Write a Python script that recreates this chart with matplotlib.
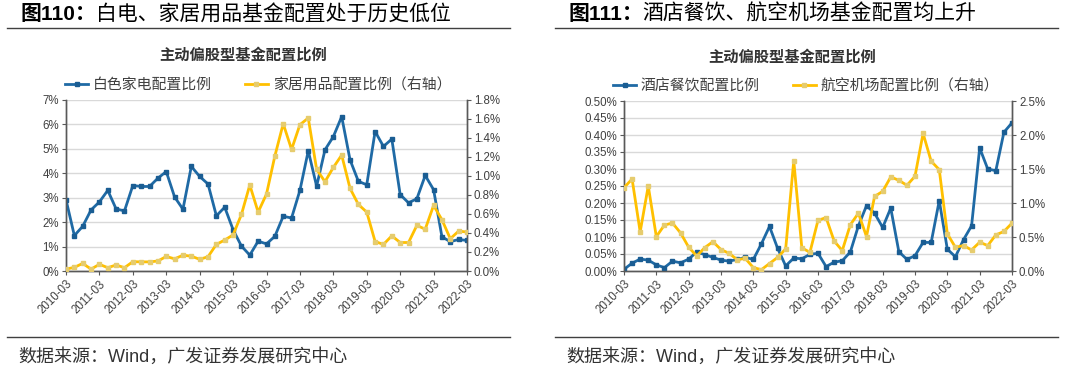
import numpy as np
import matplotlib
matplotlib.use('Agg')
import matplotlib.pyplot as plt
from matplotlib.lines import Line2D
from matplotlib.ticker import FuncFormatter, MultipleLocator

# quarterly data, 2010-03 .. 2022-03
quarter_labels = ['2010-03', '2011-03', '2012-03', '2013-03', '2014-03', '2015-03', '2016-03',
                  '2017-03', '2018-03', '2019-03', '2020-03', '2021-03', '2022-03']

# left panel (%)
white_goods = [2.92, 1.45, 1.83, 2.50, 2.83, 3.30, 2.54, 2.46, 3.50, 3.46, 3.46, 3.80, 4.07,
               3.03, 2.53, 4.28, 3.87, 3.56, 2.26, 2.61, 1.69, 1.02, 0.65, 1.22, 1.11, 1.42,
               2.24, 2.17, 3.30, 4.92, 3.47, 4.96, 5.50, 6.32, 4.55, 3.67, 3.53, 5.71, 5.10,
               5.40, 3.13, 2.79, 2.96, 3.91, 3.33, 1.40, 1.20, 1.29, 1.25]
home_goods = [0.02, 0.038, 0.08, 0.02, 0.07, 0.035, 0.063, 0.035, 0.098, 0.096, 0.096, 0.105,
              0.153, 0.128, 0.166, 0.156, 0.123, 0.150, 0.28, 0.326, 0.38, 0.595, 0.905, 0.62,
              0.81, 1.21, 1.55, 1.28, 1.54, 1.61, 1.07, 0.94, 1.09, 1.22, 0.87, 0.70, 0.62,
              0.31, 0.28, 0.37, 0.30, 0.30, 0.48, 0.44, 0.69, 0.54, 0.34, 0.42, 0.41]

# right panel (%)
hotel_catering = [0.005, 0.023, 0.035, 0.032, 0.018, 0.010, 0.029, 0.024, 0.035, 0.056, 0.048,
                  0.040, 0.032, 0.029, 0.034, 0.040, 0.034, 0.080, 0.131, 0.067, 0.015, 0.038,
                  0.036, 0.049, 0.052, 0.013, 0.026, 0.030, 0.056, 0.133, 0.192, 0.170, 0.128,
                  0.185, 0.057, 0.034, 0.045, 0.084, 0.084, 0.207, 0.064, 0.042, 0.092, 0.133,
                  0.362, 0.300, 0.295, 0.408, 0.436]
airline_airport = [1.225, 1.353, 0.575, 1.25, 0.505, 0.676, 0.705, 0.56, 0.35, 0.22, 0.345, 0.431,
                   0.315, 0.26, 0.167, 0.185, 0.05, 0.02, 0.11, 0.20, 0.325, 1.62, 0.34, 0.275,
                   0.745, 0.785, 0.44, 0.30, 0.68, 0.85, 0.507, 1.097, 1.171, 1.383, 1.334, 1.26,
                   1.393, 2.023, 1.614, 1.491, 0.546, 0.349, 0.374, 0.31, 0.423, 0.374, 0.531,
                   0.581, 0.704]

BLUE = '#1f6aa5'
BLUE_MK = '#1a5d93'
GOLD = '#ffc000'
GOLD_MK = '#e6cc6e'
TXT = '#404040'
CJK = ['Liberation Sans', 'Noto Sans CJK SC']

W, H = 1080, 369


def set_plot_style():
    plt.rcParams.update({
        'font.family': CJK,
        'font.size': 8,
        'axes.linewidth': 1.0,
        'xtick.color': '#595959',
        'ytick.color': '#595959',
        'xtick.labelcolor': TXT,
        'ytick.labelcolor': TXT,
        'xtick.major.size': 3,
        'ytick.major.size': 3,
    })


set_plot_style()


def px(x, y):
    """pixel coords (top-left origin) -> figure fraction"""
    return x / W, 1 - y / H


def pct_fmt(decimals):
    return FuncFormatter(lambda v, _: f'{v:.{decimals}f}%')


def draw_panel(fig, box, left_vals, right_vals, names, left_lim, right_lim,
               fig_no, fig_title, title_px, sub_px, legend_px, line_px):
    x0, y0 = px(box[0], box[3])
    x1, y1 = px(box[2], box[1])
    ax = fig.add_axes([x0, y0, x1 - x0, y1 - y0])
    ax2 = ax.twinx()
    xs = np.arange(len(left_vals))

    l1, = ax.plot(xs, left_vals, color=BLUE, lw=2.0, marker='s', ms=2.6,
                  mfc=BLUE_MK, mec=BLUE_MK, zorder=3)
    l2, = ax2.plot(xs, right_vals, color=GOLD, lw=2.0, marker='s', ms=2.6,
                   mfc=GOLD_MK, mec=GOLD_MK, zorder=3)

    ax.set_xlim(0, len(left_vals) - 1)
    ax.set_xticks(np.arange(0, len(left_vals), 4))
    ax.set_xticklabels(quarter_labels, rotation=45, ha='right', rotation_mode='anchor')
    ax.tick_params(axis='x', pad=2, labelsize=8.3)

    ax.set_ylim(0, left_lim[0])
    ax.yaxis.set_major_locator(MultipleLocator(left_lim[1]))
    ax.yaxis.set_major_formatter(pct_fmt(left_lim[2]))
    ax2.set_ylim(0, right_lim[0])
    ax2.yaxis.set_major_locator(MultipleLocator(right_lim[1]))
    ax2.yaxis.set_major_formatter(pct_fmt(right_lim[2]))
    ax.tick_params(axis='y', labelsize=8.3, pad=2)
    ax2.tick_params(axis='y', labelsize=8.3, pad=2)

    ax.grid(axis='y', color='#d9d9d9', lw=1.0)
    ax.set_axisbelow(True)
    for a in (ax, ax2):
        a.spines['top'].set_visible(False)
        for s in ('left', 'right', 'bottom'):
            a.spines[s].set_color('#595959')

    # headers
    tx, ty = px(*title_px)
    t1 = fig.text(tx, ty, fig_no, fontsize=15, fontweight='bold', color='black',
                  family=CJK, va='center', ha='left')
    ax.annotate(fig_title, xy=(1, 0.5), xycoords=t1, va='center', ha='left',
                fontsize=15, fontweight='medium', color='black', family=CJK,
                annotation_clip=False)
    lx0, ly = px(line_px[0], 28)
    lx1, _ = px(line_px[1], 28)
    fig.add_artist(Line2D([lx0, lx1], [ly, ly], color='#404040', lw=1.0))
    fx0, fy = px(line_px[0], 337)
    fig.add_artist(Line2D([fx0, lx1], [fy, fy], color='#404040', lw=1.0))
    sx, sy = px(line_px[0] + 11, 357)
    fig.text(sx, sy, '数据来源：Wind，广发证券发展研究中心', fontsize=13, color='#333333',
             family=CJK, va='center', ha='left')

    cx, cy = px(*sub_px)
    fig.text(cx, cy, '主动偏股型基金配置比例', fontsize=11, fontweight='bold',
             color='#333333', family=CJK, va='center', ha='center')

    gx, gy = px(*legend_px)
    fig.legend([l1, l2], names, loc='center', bbox_to_anchor=(gx, gy), ncol=2,
               frameon=False, handlelength=1.6, handletextpad=0.3,
               columnspacing=2.2, labelcolor=TXT, prop={'family': CJK, 'size': 10.7})
    return ax, ax2


fig = plt.figure(figsize=(W / 100, H / 100), dpi=100)

draw_panel(fig, (66, 100, 467, 271), white_goods, home_goods,
           ['白色家电配置比例', '家居用品配置比例（右轴）'],
           (7, 1, 0), (1.8, 0.2, 1),
           '图110：', '白电、家居用品基金配置处于历史低位',
           (20, 14), (243, 55), (258, 85), (7, 510))

draw_panel(fig, (624, 101, 1012, 271), hotel_catering, airline_airport,
           ['酒店餐饮配置比例', '航空机场配置比例（右轴）'],
           (0.5, 0.05, 2), (2.5, 0.5, 1),
           '图111：', '酒店餐饮、航空机场基金配置均上升',
           (568, 14), (792, 57), (806, 86), (555, 1058))

fig.savefig('out.png', dpi=100)
